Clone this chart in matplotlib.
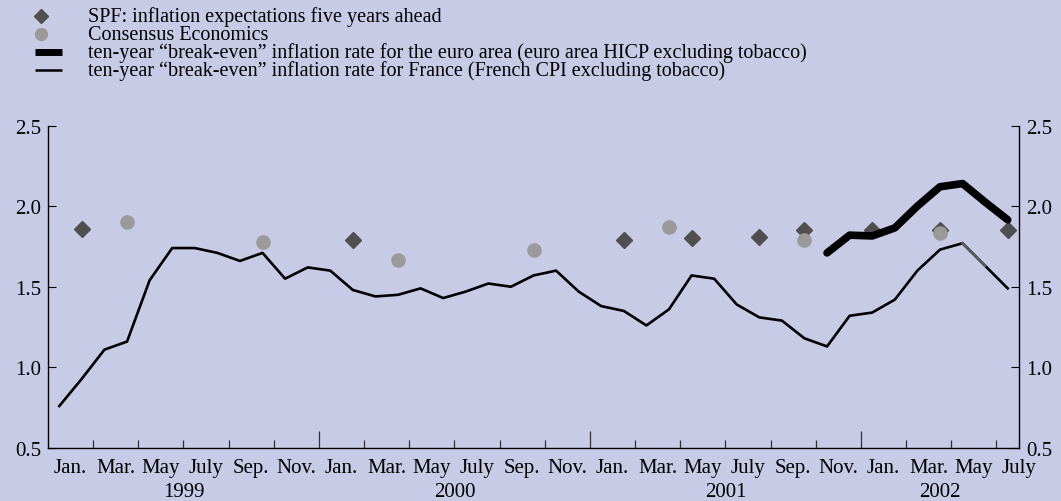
import numpy as np
import matplotlib
matplotlib.use("Agg")
import matplotlib.pyplot as plt

plt.rcParams['font.family'] = ['Liberation Serif', 'DejaVu Serif']

# ---------------- data ----------------
start_year = 1999
france = [0.76, 0.93, 1.11, 1.16, 1.54, 1.74, 1.74, 1.71, 1.66, 1.71,
          1.55, 1.62, 1.60, 1.48, 1.44, 1.45, 1.49, 1.43, 1.47, 1.52,
          1.50, 1.57, 1.60, 1.47, 1.38, 1.35, 1.26, 1.36, 1.57, 1.55,
          1.39, 1.31, 1.29, 1.18, 1.13, 1.32, 1.34, 1.42, 1.60, 1.73,
          1.77, 1.63, 1.49]
euro_start = "2001-11"
euro = [1.71, 1.82, 1.815, 1.865, 2.00, 2.12, 2.14, 2.025, 1.915]

spf_dates = ["1999-02", "2000-02", "2001-02", "2001-05", "2001-08",
             "2001-10", "2002-01", "2002-04", "2002-07"]
spf_vals = [1.86, 1.79, 1.79, 1.80, 1.81, 1.85, 1.855, 1.85, 1.85]

cons_dates = ["1999-04", "1999-10", "2000-04", "2000-10", "2001-04",
              "2001-10", "2002-04"]
cons_vals = [1.90, 1.78, 1.665, 1.73, 1.87, 1.79, 1.835]

month_labels = ["Jan.", "Mar.", "May", "July", "Sep.", "Nov."]
years = ["1999", "2000", "2001", "2002"]
yticks = [0.5, 1.0, 1.5, 2.0, 2.5]

legend_labels = [
    "SPF: inflation expectations five years ahead",
    "Consensus Economics",
    "ten-year \u201cbreak-even\u201d inflation rate for the euro area (euro area HICP excluding tobacco)",
    "ten-year \u201cbreak-even\u201d inflation rate for France (French CPI excluding tobacco)",
]

def midx(s):
    y, m = s.split("-")
    return (int(y) - start_year) * 12 + int(m) - 1 + 0.5

# ---------------- figure ----------------
W, H = 1061, 502
bg = "#c7cbe6"
spf_col = "#4f4f4f"
cons_col = "#9a9a9a"
fs_tick = 15
fs_leg = 14.5

fig = plt.figure(figsize=(W / 100, H / 100), dpi=100, facecolor=bg)
ax = fig.add_axes([48 / W, 1 - 449 / H, (1019 - 48) / W, (449 - 126.5) / H])
ax.set_facecolor(bg)

n = len(france)
x_fr = np.arange(n) + 0.5
x_eu = np.arange(len(euro)) + midx(euro_start)
x_spf = [midx(d) for d in spf_dates]
x_cons = [midx(d) for d in cons_dates]

ax.plot(x_spf, spf_vals, linestyle="none", marker="D", ms=8.5,
        color=spf_col, zorder=2)
ax.plot(x_cons, cons_vals, linestyle="none", marker="o", ms=9.5,
        color=cons_col, zorder=3)
ax.plot(x_fr, france, color="black", lw=1.9, zorder=4)
ax.plot(x_fr[40:42], france[40:42], color="#5c5c5c", lw=1.9, zorder=4.5)
ax.plot(x_eu, euro, color="black", lw=5.5, zorder=5, solid_capstyle="round",
        solid_joinstyle="round")

ax.set_xlim(0, n)
ax.set_ylim(0.5, 2.5)

ax.spines["top"].set_visible(False)
for s in ["left", "right", "bottom"]:
    ax.spines[s].set_linewidth(1.0)
    ax.spines[s].set_color("black")

ax.set_yticks(yticks)
ax.set_yticklabels([f"{v:.1f}" for v in yticks])
ax.tick_params(axis="y", direction="in", length=6, width=0.8, labelsize=fs_tick,
               left=True, right=True, labelleft=True, labelright=True, pad=5)

minor = [m for m in range(0, n, 2) if m % 12 != 0]
major = [m for m in range(12, n, 12)]
ax.set_xticks(major)
ax.set_xticks(minor, minor=True)
ax.set_xticklabels([])
ax.tick_params(axis="x", which="major", direction="in", length=12, width=0.9,
               color="#333333")
ax.tick_params(axis="x", which="minor", direction="in", length=6, width=0.9,
               color="#333333")

for i, m in enumerate(range(0, n, 2)):
    ax.text(m + 1, -0.059, month_labels[i % 6], transform=ax.get_xaxis_transform(),
            ha="center", va="center", fontsize=fs_tick)
for i, yr in enumerate(years):
    a = i * 12
    b = min(a + 12, n)
    ax.text((a + b) / 2, -0.136, yr, transform=ax.get_xaxis_transform(),
            ha="center", va="center", fontsize=fs_tick)

# ---------------- legend (pixel overlay) ----------------
lg = fig.add_axes([0, 0, 1, 1], zorder=-1)
lg.set_xlim(0, W)
lg.set_ylim(H, 0)
lg.axis("off")
rows = [17, 35, 53, 71]
lg.plot([41], [rows[0]], linestyle="none", marker="D", ms=7.5, color=spf_col)
lg.plot([41], [rows[1]], linestyle="none", marker="o", ms=8.5, color=cons_col)
lg.plot([35, 62], [rows[2]] * 2, color="black", lw=5.0, solid_capstyle="butt")
lg.plot([35, 62], [rows[3]] * 2, color="black", lw=1.8, solid_capstyle="butt")
for r, lab in zip(rows, legend_labels):
    lg.text(88, r, lab, ha="left", va="center", fontsize=fs_leg)

fig.savefig("out.png", dpi=100, facecolor=bg)
